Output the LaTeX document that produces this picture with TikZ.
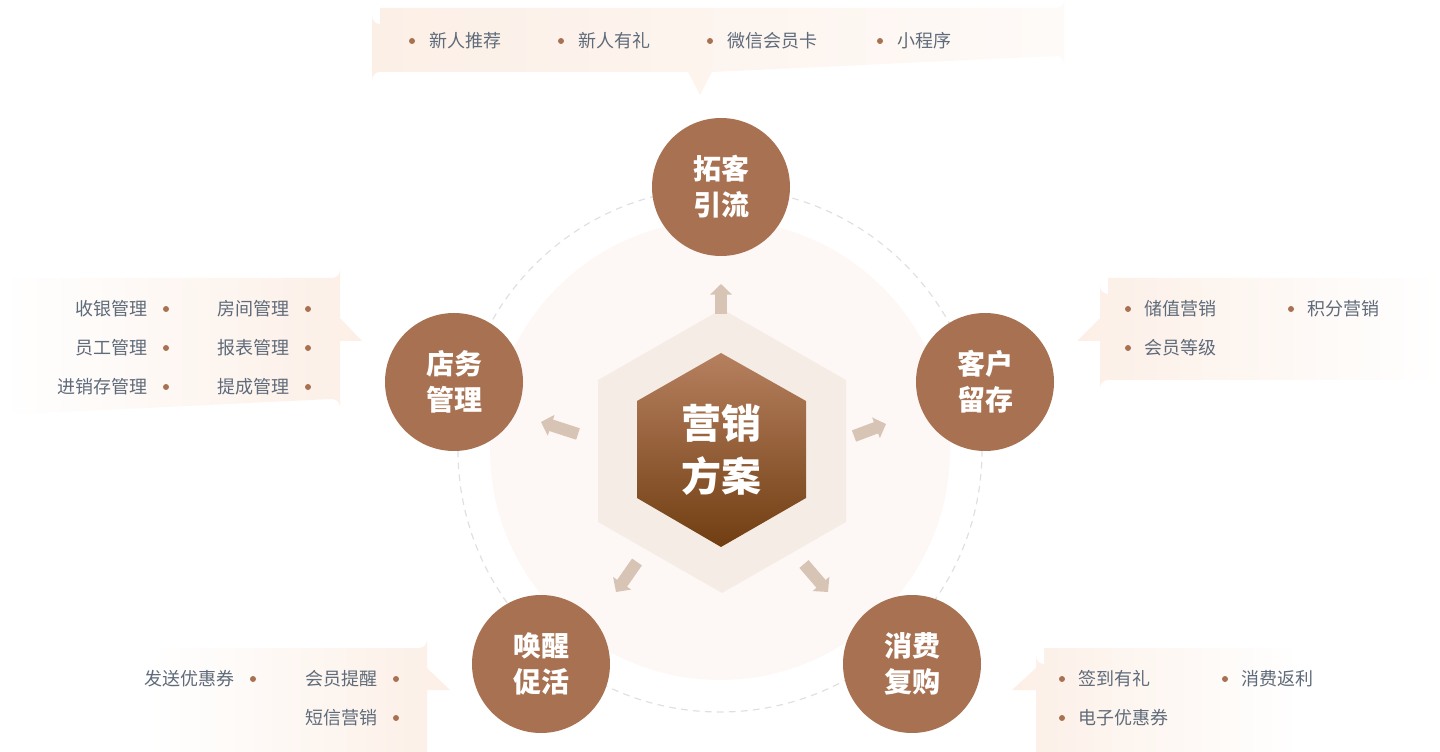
\documentclass[tikz,border=0pt]{standalone}
\usepackage{fontspec}
\setmainfont{Noto Sans CJK SC}
\usetikzlibrary{arrows.meta}
\definecolor{peach}{HTML}{FCEFE6}
\definecolor{brown}{HTML}{A87252}
\definecolor{txt}{HTML}{5F6B7A}
\definecolor{pale}{HTML}{FDF8F5}
\definecolor{hexo}{HTML}{F6ECE6}
\definecolor{htop}{HTML}{B6805F}
\definecolor{hbot}{HTML}{713E12}
\definecolor{arr}{HTML}{D8C4B4}
\tikzset{
  x=0.75pt,y=-0.75pt,
  circ/.style={circle,fill=brown,minimum size=138*0.75pt,inner sep=0pt,text=white,font=\fontsize{21}{27}\selectfont\bfseries,align=center},
  item/.style={text=txt,font=\fontsize{13.5}{16}\selectfont,inner sep=0pt},
  bul/.style={circle,fill=brown,inner sep=0pt,minimum size=4.5pt},
  arw/.style={line width=9pt,arr,-{Triangle[width=16pt,length=8pt]}},
}
\begin{document}
\begin{tikzpicture}
\useasboundingbox (0,0) rectangle (1440,752);
% background disc and dashed ring
\fill[pale] (720,450) circle (230);
\draw[dashed,color=black!12,line width=0.9pt,dash pattern=on 5pt off 4pt] (720,450) circle (262);
% hexagons
\fill[hexo] (722,309) -- (846,380) -- (846,522) -- (722,593) -- (598,522) -- (598,380) -- cycle;
\shade[top color=htop,bottom color=hbot] (721,353) -- (806,401) -- (806,498) -- (721,547) -- (637,498) -- (637,401) -- cycle;
\node[text=white,font=\fontsize{30}{40}\selectfont\bfseries,align=center] (c) at (721,450) {营销\\方案};
% circles
\node[circ] (a) at (721,187) {拓客\\引流};
\node[circ] (b) at (985,382) {客户\\留存};
\node[circ] (d) at (912,664) {消费\\复购};
\node[circ] (e) at (541,664) {唤醒\\促活};
\node[circ] (f) at (454,382) {店务\\管理};
% arrows
\coordinate (a1) at (721,314); \coordinate (a2) at (721,284);
\coordinate (b1) at (854,436); \coordinate (b2) at (886,424);
\coordinate (d1) at (804,564); \coordinate (d2) at (828,592);
\coordinate (e1) at (637,562); \coordinate (e2) at (616,592);
\coordinate (f1) at (578,434); \coordinate (f2) at (541,422);
\foreach \s/\t in {a1/a2,b1/b2,d1/d2,e1/e2,f1/f2}{\draw[arw] (\s) -- (\t);}
% top callout
\shade[left color=peach,right color=peach!30] (380,8) -- (1056,8) arc(90:0:8) -- (1064,64) arc(0:-90:8) -- (712,72) -- (700,95) -- (688,72) -- (380,72) arc(270:180:8) -- (372,16) arc(180:90:8) -- cycle;
\foreach \x/\t in {412/新人推荐,561/新人有礼,710/微信会员卡,880/小程序/微商城}{
  \node[bul] at (\x,41) {};
  \node[item,anchor=west] at (\x+17,41) {\t};}
% right callout
\shade[left color=peach,right color=white] (1108,278) -- (1440,278) -- (1440,380) -- (1108,380) arc(270:180:8) -- (1100,341) -- (1077,341) -- (1100,318) -- (1100,286) arc(180:90:8) -- cycle;
\foreach \x/\y/\t in {1128/309/储值营销,1291/309/积分营销,1128/348/会员等级}{
  \node[bul] at (\x,\y) {};
  \node[item,anchor=west] at (\x+16,\y) {\t};}
% left callout
\shade[left color=white,right color=peach] (0,278) -- (332,278) arc(90:0:8) -- (340,318) -- (362,341) -- (340,341) -- (340,407) arc(0:-90:8) -- (0,415) -- cycle;
\foreach \x/\y/\t in {148/309/收银管理,290/309/房间管理,148/348/员工管理,290/348/报表管理,148/387/进销存管理,290/387/提成管理}{
  \node[bul] at (\x+18,\y) {};
  \node[item,anchor=east] at (\x,\y) {\t};}
% bottom-left callout
\shade[left color=white,right color=peach] (150,648) -- (419,648) arc(90:0:8) -- (427,668) -- (450,690) -- (427,690) -- (427,752) -- (150,752) -- cycle;
\foreach \x/\y/\t in {235/679/发送优惠券,378/679/会员提醒,378/718/短信营销}{
  \node[bul] at (\x+18,\y) {};
  \node[item,anchor=east] at (\x,\y) {\t};}
% bottom-right callout
\shade[left color=peach,right color=white] (1044,648) -- (1300,648) -- (1300,752) -- (1036,752) -- (1036,690) -- (1012,690) -- (1036,668) -- (1036,656) arc(180:90:8) -- cycle;
\foreach \x/\y/\t in {1062/679/签到有礼,1225/679/消费返利,1062/718/电子优惠券}{
  \node[bul] at (\x,\y) {};
  \node[item,anchor=west] at (\x+16,\y) {\t};}
\end{tikzpicture}
\end{document}
